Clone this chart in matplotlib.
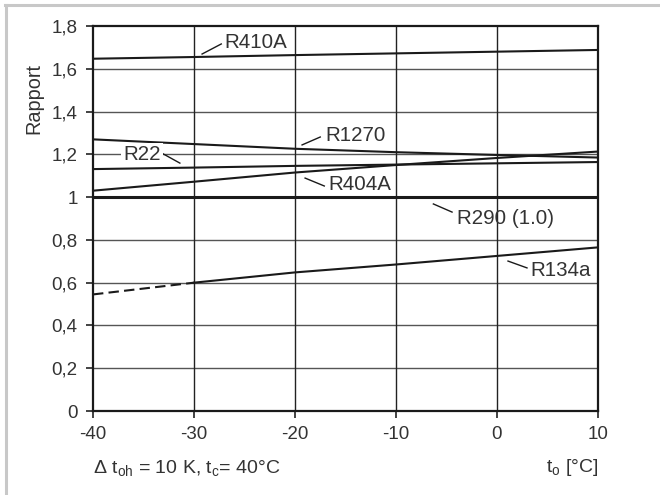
import matplotlib
matplotlib.use("Agg")
import matplotlib.pyplot as plt
from matplotlib.lines import Line2D
from matplotlib.ticker import FuncFormatter

plt.rcParams['font.family'] = ['Liberation Sans', 'DejaVu Sans']
plt.rcParams['mathtext.fontset'] = 'custom'
plt.rcParams['mathtext.rm'] = 'Liberation Sans'
plt.rcParams['axes.unicode_minus'] = False

# data
t_o = [-40, -30, -20, -10, 0, 10]
r410a = [1.647, 1.655, 1.664, 1.672, 1.680, 1.688]
r1270 = [1.270, 1.248, 1.226, 1.210, 1.197, 1.185]
r22 = [1.131, 1.138, 1.146, 1.152, 1.158, 1.164]
r404a = [1.030, 1.072, 1.115, 1.150, 1.183, 1.213]
r290 = [1.0, 1.0, 1.0, 1.0, 1.0, 1.0]
r134a = [0.545, 0.600, 0.648, 0.685, 0.725, 0.765]

x_ticks = [-40, -30, -20, -10, 0, 10]
y_ticks = [0, 0.2, 0.4, 0.6, 0.8, 1.0, 1.2, 1.4, 1.6, 1.8]

# label text, text position, leader start, leader end
labels = [
    ("R410A", (-27.0, 1.722), (-29.2, 1.669), (-27.3, 1.716)),
    ("R1270", (-17.0, 1.290), (-19.3, 1.244), (-17.5, 1.281)),
    ("R22", (-37.0, 1.197), (-33.2, 1.206), (-31.4, 1.159)),
    ("R404A", (-16.7, 1.057), (-19.0, 1.089), (-17.1, 1.052)),
    ("R290 (1.0)", (-3.96, 0.902), (-6.3, 0.968), (-4.45, 0.930)),
    ("R134a", (3.27, 0.655), (1.09, 0.701), (2.97, 0.669)),
]

txt = "#333333"
fig = plt.figure(figsize=(6.6, 4.95), dpi=100)
ax = fig.add_axes([93 / 660, 1 - 411 / 495, 505 / 660, 385 / 495])

# grid
for v in y_ticks[1:-1]:
    ax.axhline(v, color="#555555", lw=1.0, zorder=1)
for v in x_ticks[1:-1]:
    ax.axvline(v, color="#222222", lw=1.0, zorder=1)

lc = "#1a1a1a"
ax.plot(t_o, r410a, color=lc, lw=1.5, zorder=3)
ax.plot(t_o, r1270, color=lc, lw=1.5, zorder=3)
ax.plot(t_o, r22, color=lc, lw=1.5, zorder=3)
ax.plot(t_o, r404a, color=lc, lw=1.5, zorder=3)
ax.plot(t_o, r290, color=lc, lw=2.2, zorder=3)
ax.plot(t_o[:2], r134a[:2], color=lc, lw=1.5, ls=(0, (5, 2.5)), zorder=3)
ax.plot(t_o[1:], r134a[1:], color=lc, lw=1.5, zorder=3)

for name, pos, p0, p1 in labels:
    ax.plot([p0[0], p1[0]], [p0[1], p1[1]], color=lc, lw=1.0, zorder=4)
    bbox = None
    if name == "R22":
        bbox = dict(facecolor="white", edgecolor="none", pad=1.5)
    ax.text(pos[0], pos[1], name, fontsize=14.8, color=txt, ha="left",
            va="center", zorder=5, bbox=bbox)

ax.set_xlim(-40, 10)
ax.set_ylim(0, 1.8)
ax.set_xticks(x_ticks)
ax.set_yticks(y_ticks)
ax.yaxis.set_major_formatter(FuncFormatter(lambda v, p: f"{v:g}".replace(".", ",")))
ax.tick_params(direction="out", length=5, width=1.2, color="#222222",
               labelsize=13.5, labelcolor=txt, pad=6)
for s in ax.spines.values():
    s.set_linewidth(1.6)
    s.set_color("#1a1a1a")

fig.text(34 / 660, 1 - 98 / 495, "Rapport", rotation=90, ha="center",
         va="center", fontsize=14.3, color=txt)
fig.text(93 / 660, 1 - 468 / 495, r"Δ $\mathregular{t_{oh}}$ = 10 K, $\mathregular{t_c}$= 40°C",
         ha="left", va="center", fontsize=14, color=txt)
fig.text(598 / 660, 1 - 468 / 495, r"$\mathregular{t_o}$ [°C]", ha="right",
         va="center", fontsize=14, color=txt)

# gray frame (top and left)
fig.add_artist(Line2D([5 / 660, 1], [1 - 4.5 / 495, 1 - 4.5 / 495],
                      color="#c8c8c8", lw=2.2, transform=fig.transFigure))
fig.add_artist(Line2D([6 / 660, 6 / 660], [0, 1 - 4.5 / 495],
                      color="#c8c8c8", lw=2.2, transform=fig.transFigure))

fig.savefig("out.png", dpi=100)
